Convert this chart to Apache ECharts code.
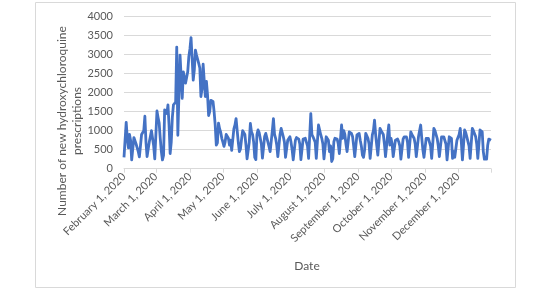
<!DOCTYPE html>
<html>
<head>
<meta charset="utf-8">
<script src="https://cdn.jsdelivr.net/npm/echarts@6/dist/echarts.min.js"></script>
<style>
  html, body { margin: 0; padding: 0; background: #fff; }
  #chart { width: 550px; height: 290px; }
</style>
</head>
<body>
<div id="chart"></div>
<script>
// daily new hydroxychloroquine prescriptions, one array per month (2020)
const feb = [300, 280, 1220, 800, 550, 900, 750, 230, 260, 820, 840, 650, 600, 450, 310, 300, 900, 880, 1000, 1380, 700, 320, 300, 700, 850, 1000, 950, 600, 260];
const mar = [280, 1520, 1350, 1200, 800, 450, 230, 350, 1550, 1600, 1450, 1680, 1150, 400, 700, 1350, 1680, 1650, 1750, 3200, 880, 1950, 2990, 3040, 1850, 2550, 2400, 2250, 2400, 2550, 2950];
const apr = [3150, 3450, 2900, 2330, 2600, 3120, 2990, 2950, 2770, 2650, 1900, 2100, 2750, 2700, 1900, 2300, 1950, 1400, 1500, 1800, 1750, 1770, 1500, 1150, 620, 680, 1200, 1050, 960, 800];
const may = [700, 590, 700, 900, 880, 800, 620, 750, 480, 430, 1050, 1150, 1320, 1000, 700, 450, 520, 780, 1000, 1050, 900, 620, 260, 230, 700, 1190, 970, 900, 700, 300, 240];
const jun = [900, 1020, 950, 800, 650, 280, 250, 850, 930, 880, 700, 580, 450, 400, 1000, 1320, 900, 800, 620, 320, 300, 900, 1060, 950, 840, 700, 300, 290, 750, 800];
const jul = [840, 700, 500, 230, 250, 750, 820, 800, 780, 650, 240, 260, 780, 820, 800, 790, 600, 270, 300, 1450, 900, 840, 850, 700, 270, 300, 1150, 1100, 900, 800, 650];
const aug = [260, 280, 840, 800, 750, 450, 600, 190, 260, 710, 800, 840, 780, 650, 400, 350, 1150, 800, 1000, 900, 650, 450, 400, 970, 950, 930, 850, 600, 320, 350, 890];
const sep = [900, 930, 750, 600, 360, 300, 500, 930, 880, 800, 650, 270, 300, 890, 1000, 1280, 900, 620, 360, 330, 1060, 1000, 1020, 900, 650, 320, 300, 900, 1150, 620];
const oct = [800, 650, 320, 350, 750, 800, 780, 710, 600, 250, 230, 780, 840, 820, 840, 700, 300, 280, 970, 900, 850, 800, 650, 320, 300, 840, 1000, 1150, 800, 500, 300];
const nov = [280, 800, 820, 800, 750, 600, 270, 300, 1060, 1000, 970, 800, 600, 320, 300, 840, 850, 840, 800, 650, 230, 260, 840, 820, 800, 270, 450, 300, 280, 750];
const dec = [710, 900, 1060, 700, 230, 280, 1020, 950, 840, 800, 600, 270, 300, 1060, 1000, 970, 850, 650, 270, 300, 1020, 980, 970, 450, 250, 230, 250, 620, 780, 800, 750];

const monthNames = ['February', 'March', 'April', 'May', 'June', 'July', 'August', 'September', 'October', 'November', 'December'];
const months = [feb, mar, apr, may, jun, jul, aug, sep, oct, nov, dec];
const yTicks = [0, 500, 1000, 1500, 2000, 2500, 3000, 3500, 4000];

let dates = [];
let values = [];
months.forEach((m, i) => {
    m.forEach((v, j) => {
        dates.push(monthNames[i] + ' ' + (j + 1) + ', 2020');
        values.push(v);
    });
});

const isFirst = (val) => / 1, 2020$/.test(val);
const font = 'Lato';
const grey = '#595959';

let chart = echarts.init(document.getElementById('chart'));
chart.setOption({
    animation: false,
    textStyle: { fontFamily: font },
    grid: {
        left: 124,
        right: 59,
        top: 16.7,
        bottom: 121.3
    },
    xAxis: {
        type: 'category',
        boundaryGap: false,
        data: dates,
        axisLine: { lineStyle: { color: '#d9d9d9', width: 1 } },
        axisTick: {
            length: 4,
            lineStyle: { color: '#d9d9d9' },
            interval: (idx, val) => isFirst(val) || idx === dates.length - 1
        },
        axisLabel: {
            interval: (idx, val) => isFirst(val),
            rotate: 45,
            color: grey,
            fontSize: 11,
            fontFamily: font,
            margin: 6
        },
        splitLine: { show: false }
    },
    yAxis: {
        type: 'value',
        min: yTicks[0],
        max: yTicks[yTicks.length - 1],
        interval: 500,
        axisLine: { show: false },
        axisTick: { show: false },
        axisLabel: { color: grey, fontSize: 11, fontFamily: font, margin: 11, formatter: (v) => String(v) },
        splitLine: { lineStyle: { color: '#d9d9d9', width: 1 } }
    },
    series: [{
        type: 'line',
        data: values,
        showSymbol: false,
        lineStyle: { color: '#4472C4', width: 2.8, join: 'round' },
        itemStyle: { color: '#4472C4' }
    }],
    graphic: [
        {
            type: 'rect',
            shape: { x: 35.5, y: 2.5, width: 480, height: 285 },
            style: { fill: 'none', stroke: '#d9d9d9', lineWidth: 1 },
            silent: true
        },
        {
            type: 'text',
            x: 70,
            y: 121,
            rotation: Math.PI / 2,
            style: {
                text: 'Number of new hydroxychloroquine\nprescriptions',
                align: 'center',
                verticalAlign: 'middle',
                font: '12px ' + font,
                lineHeight: 15,
                fill: grey
            }
        },
        {
            type: 'text',
            x: 307,
            y: 266,
            style: {
                text: 'Date',
                align: 'center',
                verticalAlign: 'middle',
                font: '12px ' + font,
                fill: grey
            }
        }
    ]
});
</script>
</body>
</html>
